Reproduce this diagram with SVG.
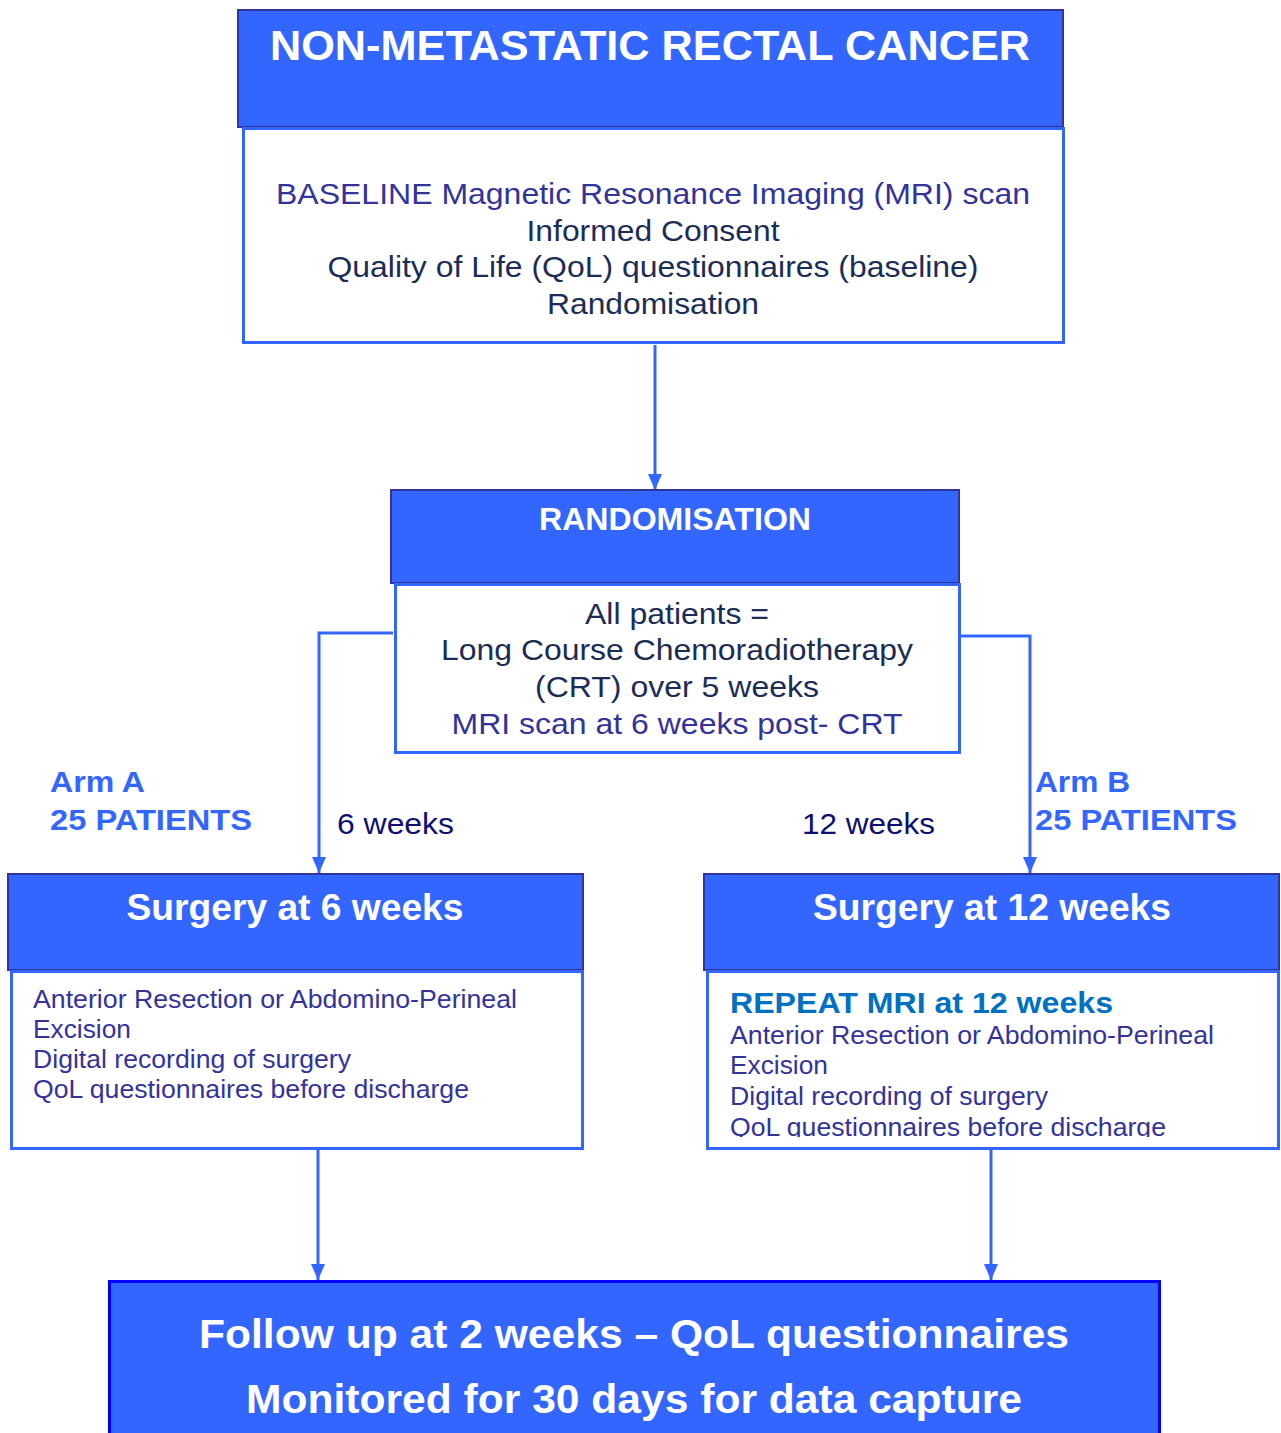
<svg xmlns="http://www.w3.org/2000/svg" width="1281" height="1433" viewBox="0 0 1281 1433">
<style>
.hdr{fill:#3366FF;stroke:#333399;stroke-width:2}
.body{fill:#FFFFFF;stroke:#3366FF;stroke-width:3}
.wt{fill:#FFFFFF;font-family:"Liberation Sans",Arial,sans-serif;font-weight:bold}
.tx{font-family:"Liberation Sans",Arial,sans-serif}
.navy{fill:#1C2D55}
.purp{fill:#333399}
.arm{fill:#3366FF;font-family:"Liberation Sans",Arial,sans-serif;font-weight:bold;font-size:30px}
.wk{fill:#0D1070;font-family:"Liberation Sans",Arial,sans-serif;font-size:30px}
.conn{fill:none;stroke:#3366FF;stroke-width:3}
</style>
<defs>
<marker id="ah" markerUnits="userSpaceOnUse" markerWidth="16" markerHeight="16" viewBox="0 0 16 16" refX="16" refY="8" orient="auto">
<path d="M0,1 L16,8 L0,15 Z" fill="#3366FF"/>
</marker>
<clipPath id="clipR"><rect x="706" y="972" width="572" height="165"/></clipPath>
</defs>
<rect width="1281" height="1433" fill="#FFFFFF"/>
<g id="connectors">
<path class="conn" d="M655,345 V490" marker-end="url(#ah)"/>
<path class="conn" d="M393,633 H319 V873" marker-end="url(#ah)"/>
<path class="conn" d="M958,636 H1030 V873" marker-end="url(#ah)"/>
<path class="conn" d="M318,1150 V1280" marker-end="url(#ah)"/>
<path class="conn" d="M991,1150 V1280" marker-end="url(#ah)"/>
</g>
<g id="node-top">
<rect class="hdr" x="238" y="10" width="825" height="117"/>
<text class="wt" x="650" y="60" font-size="42" text-anchor="middle" textLength="760" lengthAdjust="spacingAndGlyphs">NON-METASTATIC RECTAL CANCER</text>
<rect class="body" x="243.5" y="128.5" width="820" height="214"/>
<g class="tx" font-size="30" text-anchor="middle">
<text class="purp" x="653" y="204" textLength="754" lengthAdjust="spacingAndGlyphs">BASELINE Magnetic Resonance Imaging (MRI) scan</text>
<text class="navy" x="653" y="241" textLength="253" lengthAdjust="spacingAndGlyphs">Informed Consent</text>
<text class="navy" x="653" y="277" textLength="651" lengthAdjust="spacingAndGlyphs">Quality of Life (QoL) questionnaires (baseline)</text>
<text class="navy" x="653" y="314" textLength="212" lengthAdjust="spacingAndGlyphs">Randomisation</text>
</g>
</g>
<g id="node-randomisation">
<rect class="hdr" x="391" y="490" width="568" height="93"/>
<text class="wt" x="675" y="530" font-size="31" text-anchor="middle" textLength="272" lengthAdjust="spacingAndGlyphs">RANDOMISATION</text>
<rect class="body" x="395.5" y="584.5" width="564" height="168"/>
<g class="tx" font-size="30" text-anchor="middle">
<text class="navy" x="677" y="624" textLength="184" lengthAdjust="spacingAndGlyphs">All patients =</text>
<text class="navy" x="677" y="660" textLength="472" lengthAdjust="spacingAndGlyphs">Long Course Chemoradiotherapy</text>
<text class="navy" x="677" y="697" textLength="284" lengthAdjust="spacingAndGlyphs">(CRT) over 5 weeks</text>
<text class="purp" x="677" y="734" textLength="451" lengthAdjust="spacingAndGlyphs">MRI scan at 6 weeks post- CRT</text>
</g>
</g>
<g id="label-armA">
<text class="arm" x="50" y="792" textLength="95" lengthAdjust="spacingAndGlyphs">Arm A</text>
<text class="arm" x="50" y="830" textLength="202" lengthAdjust="spacingAndGlyphs">25 PATIENTS</text>
</g>
<g id="label-armB">
<text class="arm" x="1035" y="792" textLength="95" lengthAdjust="spacingAndGlyphs">Arm B</text>
<text class="arm" x="1035" y="830" textLength="202" lengthAdjust="spacingAndGlyphs">25 PATIENTS</text>
</g>
<text class="wk" x="337" y="834" textLength="117" lengthAdjust="spacingAndGlyphs">6 weeks</text>
<text class="wk" x="802" y="834" textLength="133" lengthAdjust="spacingAndGlyphs">12 weeks</text>
<g id="node-surgery6">
<rect class="hdr" x="8" y="874" width="575" height="96"/>
<text class="wt" x="295" y="920" font-size="37" text-anchor="middle" textLength="337" lengthAdjust="spacingAndGlyphs">Surgery at 6 weeks</text>
<rect class="body" x="11.5" y="971.5" width="571" height="177"/>
<g class="tx purp" font-size="26">
<text x="33" y="1008" textLength="484" lengthAdjust="spacingAndGlyphs">Anterior Resection or Abdomino-Perineal</text>
<text x="33" y="1038" textLength="98" lengthAdjust="spacingAndGlyphs">Excision</text>
<text x="33" y="1068" textLength="318" lengthAdjust="spacingAndGlyphs">Digital recording of surgery</text>
<text x="33" y="1098" textLength="436" lengthAdjust="spacingAndGlyphs">QoL questionnaires before discharge</text>
</g>
</g>
<g id="node-surgery12">
<rect class="hdr" x="704" y="874" width="575" height="96"/>
<text class="wt" x="992" y="920" font-size="37" text-anchor="middle" textLength="358" lengthAdjust="spacingAndGlyphs">Surgery at 12 weeks</text>
<rect class="body" x="707.5" y="971.5" width="571" height="177"/>
<g clip-path="url(#clipR)">
<text x="730" y="1013" font-family="Liberation Sans, Arial, sans-serif" font-weight="bold" font-size="30" fill="#0070C0" textLength="383" lengthAdjust="spacingAndGlyphs">REPEAT MRI at 12 weeks</text>
<g class="tx purp" font-size="26">
<text x="730" y="1044" textLength="484" lengthAdjust="spacingAndGlyphs">Anterior Resection or Abdomino-Perineal</text>
<text x="730" y="1074" textLength="98" lengthAdjust="spacingAndGlyphs">Excision</text>
<text x="730" y="1105" textLength="318" lengthAdjust="spacingAndGlyphs">Digital recording of surgery</text>
<text x="730" y="1136" textLength="436" lengthAdjust="spacingAndGlyphs">QoL questionnaires before discharge</text>
</g>
</g>
</g>
<g id="node-followup">
<rect x="109.5" y="1281.5" width="1050" height="160" fill="#3366FF" stroke="#0000FF" stroke-width="3"/>
<text class="wt" x="634" y="1348" font-size="40" text-anchor="middle" textLength="870" lengthAdjust="spacingAndGlyphs">Follow up at 2 weeks – QoL questionnaires</text>
<text class="wt" x="634" y="1413" font-size="40" text-anchor="middle" textLength="776" lengthAdjust="spacingAndGlyphs">Monitored for 30 days for data capture</text>
</g>
</svg>
